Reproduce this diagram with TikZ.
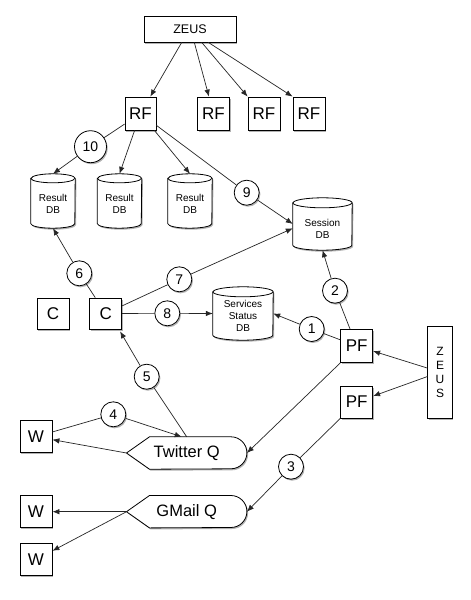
\documentclass[tikz,border=0pt]{standalone}
\usepackage{fontspec}
\setmainfont{Liberation Sans}
\usetikzlibrary{arrows.meta,shadows,calc}
\pgfdeclarelayer{back}
\pgfdeclarelayer{bg}
\pgfsetlayers{back,bg,main}
\newcommand\mydbshape[3]{%
  \path[dbfill] ([yshift=-#3]#1.north west) -- ([yshift=#3]#1.south west)
    arc[start angle=180,end angle=360,x radius=#2,y radius=#3]
    -- ([yshift=-#3]#1.north east)
    arc[start angle=0,end angle=180,x radius=#2,y radius=#3] -- cycle;
  \draw[dbline] ([yshift=-#3]#1.north west)
    arc[start angle=180,end angle=360,x radius=#2,y radius=#3];
}
\begin{document}
\begin{tikzpicture}[x=1pt,y=-1pt,
  line/.style={draw=black!85, line width=0.7pt},
  arr/.style={line, -{Latex[length=7pt,width=5.5pt]}},
  shad/.style={drop shadow={shadow xshift=1.2pt,shadow yshift=-1.5pt,opacity=0.3,fill=black}},
  box/.style={draw=black, line width=0.8pt, fill=white, shad, minimum width=32pt,
    minimum height=32pt, inner sep=0pt, font=\fontsize{17}{17}\selectfont},
  num/.style={circle, draw=black, line width=0.8pt, fill=white, shad, minimum size=25pt,
    inner sep=0pt, font=\fontsize{14}{14}\selectfont},
  dbbox/.style={inner sep=0pt},
  dbtext/.style={inner sep=0pt, align=center, font=\fontsize{10}{11.7}\selectfont},
  dbfill/.style={draw=black, line width=0.8pt, fill=white, shad},
  dbline/.style={draw=black, line width=0.8pt},
  qbox/.style={inner sep=0pt, minimum width=120pt, minimum height=32pt,
    font=\fontsize{16.5}{16.5}\selectfont},
  qshape/.style={draw=black, line width=0.8pt, fill=white, shad}
]
\begin{pgfonlayer}{back}
\fill[white] (0,0) rectangle (471,600);
\end{pgfonlayer}
\useasboundingbox (0,0) rectangle (471,600);

% top
\node[box, minimum width=92pt, minimum height=26pt, font=\fontsize{12.5}{12.5}\selectfont] (zeus) at (190,29) {ZEUS};
\node[box, minimum width=31pt, minimum height=33pt] (rf1) at (140.5,113.5) {RF};
\node[box, minimum width=32pt, minimum height=33pt] (rf2) at (213.5,113.5) {RF};
\node[box, minimum width=32pt, minimum height=33pt] (rf3) at (264,113.5) {RF};
\node[box, minimum width=32pt, minimum height=33pt] (rf4) at (309,113.5) {RF};

% databases
\node[dbbox, minimum width=44pt, minimum height=54pt] (db1) at (53,201) {};
\node[dbbox, minimum width=44pt, minimum height=54pt] (db2) at (119.5,201) {};
\node[dbbox, minimum width=44pt, minimum height=54pt] (db3) at (190,201) {};
\node[dbbox, minimum width=59pt, minimum height=52pt] (sess) at (322.5,224) {};
\node[dbbox, minimum width=60pt, minimum height=53pt] (ssdb) at (243,313.5) {};
\begin{pgfonlayer}{bg}
\mydbshape{db1}{22pt}{4.5pt}
\mydbshape{db2}{22pt}{4.5pt}
\mydbshape{db3}{22pt}{4.5pt}
\mydbshape{sess}{29.5pt}{5pt}
\mydbshape{ssdb}{30pt}{5pt}
\end{pgfonlayer}
\node[dbtext] (db1t) at ([yshift=-3pt]db1.center) {Result\\DB};
\node[dbtext] (db2t) at ([yshift=-3pt]db2.center) {Result\\DB};
\node[dbtext] (db3t) at ([yshift=-3pt]db3.center) {Result\\DB};
\node[dbtext] (sesst) at ([yshift=-5pt]sess.center) {Session\\DB};
\node[dbtext] (ssdbt) at ([yshift=-2.5pt]ssdb.center) {Services\\Status\\DB};

% numbered circles
\node[num, minimum size=32pt] (c10) at (90.5,146.7) {10};
\node[num] (c9) at (246.7,192.7) {9};
\node[num] (c6) at (79.3,273.3) {6};
\node[num] (c7) at (179.3,279.3) {7};
\node[num] (c8) at (167.3,313.3) {8};
\node[num] (c2) at (335,290.7) {2};
\node[num] (c1) at (311.7,329) {1};
\node[num] (c5) at (146.7,376.7) {5};
\node[num] (c4) at (113.3,414.3) {4};
\node[num] (c3) at (291,466.7) {3};

% boxes
\node[box, minimum height=31pt] (cbox1) at (53,313.5) {C};
\node[box, minimum height=31pt] (cbox2) at (105.7,313.5) {C};
\node[box, minimum height=33pt] (pf1) at (356.7,346) {PF};
\node[box, minimum height=32pt] (pf2) at (356.7,402) {PF};
\node[box, minimum width=24.5pt, minimum height=92pt, align=center, font=\fontsize{12}{14}\selectfont] (zeusv) at (440,372) {Z\\E\\U\\S};
\node[box] (w1) at (36,436.7) {W};
\node[box] (w2) at (36,511.7) {W};
\node[box] (w3) at (36,559.5) {W};

% queues
\node[qbox] (tq) at (186.7,453) {Twitter Q};
\node[qbox] (gq) at (186.7,511.7) {GMail Q};
\begin{pgfonlayer}{bg}
\path[qshape] (tq.west) -- ([xshift=23pt]tq.north west) -- ([xshift=-16pt]tq.north east)
  arc[start angle=90,end angle=-90,radius=16pt] -- ([xshift=23pt]tq.south west) -- cycle;
\path[qshape] (gq.west) -- ([xshift=23pt]gq.north west) -- ([xshift=-16pt]gq.north east)
  arc[start angle=90,end angle=-90,radius=16pt] -- ([xshift=23pt]gq.south west) -- cycle;
\end{pgfonlayer}

% connectors
\draw[arr] ([xshift=-8.3pt]zeus.south) -- (rf1);
\draw[arr] ([xshift=4.3pt]zeus.south) -- (rf2);
\draw[arr] ([xshift=11.7pt]zeus.south) -- (rf3.north west);
\draw[arr] ([xshift=18.3pt]zeus.south) -- (rf4.north west);
\draw[line] (rf1) -- (c10);
\draw[arr] (c10) -- (db1.north);
\draw[arr] (rf1) -- (db2.north);
\draw[arr] (rf1) -- (db3.north);
\draw[line] (rf1) -- (c9);
\draw[arr] (c9) -- (sess.west);
\draw[line] (cbox2) -- (c6);
\draw[arr] (c6) -- (db1.south);
\draw[line] (cbox2) -- (c7);
\draw[arr] (c7) -- ([yshift=-4.3pt]sess.west);
\draw[line] (cbox2) -- (c8);
\draw[arr] (c8) -- (ssdb.west);
\draw[line] (pf1) -- (c1);
\draw[arr] (c1) -- (ssdb.east);
\draw[line] (pf1) -- (c2);
\draw[arr] (c2) -- (sess.south);
\draw[arr] (zeusv) -- (pf1);
\draw[arr] (zeusv) -- (pf2);
\draw[line] (tq.north) -- (c5);
\draw[arr] (c5) -- ([xshift=-2pt,yshift=-2pt]cbox2.south east);
\draw[line] (w1) -- (c4);
\draw[arr] (c4) -- ([xshift=-5pt]tq.north);
\draw[arr] (tq.west) -- (w1);
\draw[arr] (pf1.south west) -- (tq.east);
\draw[line] (pf2.south west) -- (c3);
\draw[arr] (c3) -- (gq.east);
\draw[arr] (gq.west) -- (w2);
\draw[arr] (gq.west) -- (w3);
\end{tikzpicture}
\end{document}
